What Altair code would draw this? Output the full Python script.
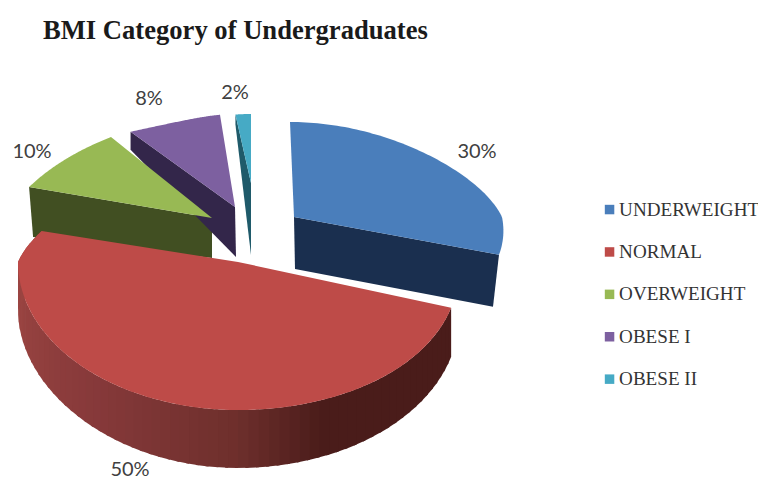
import math
import altair as alt
import pandas as pd

categories = ["UNDERWEIGHT", "NORMAL", "OVERWEIGHT", "OBESE I", "OBESE II"]
values = [30, 50, 10, 8, 2]
colors = ["#4a7ebb", "#be4b48", "#98b954", "#7d60a0", "#46aac5"]
wall_colors = ["#1a2f4f", "#4a1c1a", "#414f22", "#33264a", "#1f5a6a"]
percent_labels = ["30%", "50%", "10%", "8%", "2%"]

# drawing layout of the tilted, exploded pie
# (apex x, apex y, rx, ry back, ry front, depth, back tilt, front shear, back lean)
layout = {
    "UNDERWEIGHT": (294, 217, 208, 95, 122, 52, 0.2, 0.2, -4),
    "NORMAL": (238, 262, 220, 100, 148, 48, 0.2, 0.09, 0),
    "OVERWEIGHT": (212, 218, 205, 100, 100, 40, 0.2, 0.0, 0),
    "OBESE I": (235, 207, 434, 93, 93, 50, 0.73, 0.0, 0),
    "OBESE II": (251, 183, 155, 69, 69, 72, 0.2, 0.0, 0),
}
label_pos = [(477, 152), (130, 470), (32, 152), (149, 99), (235, 93)]
wall_stops = [(0.0, "#4a1c1a"), (0.28, "#4a1c1a"), (0.4, "#6e2f2c"), (0.62, "#86393a"), (0.87, "#9a4441"), (1.0, "#9a4441")]


def rim(cat, theta):
    ax, ay, rx, ryb, ryf, _, tilt, shear, lean = layout[cat]
    s, c = math.sin(theta), math.cos(theta)
    r = rx * (1 - tilt * max(0.0, c))
    ry = ryb if c > 0 else ryf
    x = ax + r * s + lean * max(0.0, c)
    if c < 0 and s > 0:
        x += shear * ry * abs(c) * s
    return [x, ay - ry * c]


def feature(name, ring, shade=None):
    closed = ring + [ring[0]]
    return {
        "type": "Feature",
        "properties": {"name": name, "shade": shade},
        "geometry": {"type": "Polygon", "coordinates": [closed]},
    }


def mix(a, b, t):
    pa = [int(a[i:i + 2], 16) for i in (1, 3, 5)]
    pb = [int(b[i:i + 2], 16) for i in (1, 3, 5)]
    return "#" + "".join(f"{round(x + (y - x) * t):02x}" for x, y in zip(pa, pb))


def wall_shade(f):
    for (f0, c0), (f1, c1) in zip(wall_stops, wall_stops[1:]):
        if f <= f1:
            return mix(c0, c1, (f - f0) / (f1 - f0))
    return wall_stops[-1][1]


spans = {}
acc = 0
for cat, v in zip(categories, values):
    spans[cat] = (acc / 100 * 2 * math.pi, (acc + v) / 100 * 2 * math.pi)
    acc += v

tops, walls, red_wall = {}, [], []
for cat in categories:
    a0, a1 = spans[cat]
    n = 80
    arc = [rim(cat, a0 + (a1 - a0) * i / n) for i in range(n + 1)]
    tops[cat] = feature(cat, [[layout[cat][0], layout[cat][1]]] + arc)

# flat cut faces of the back slices
for cat, col in zip(categories, wall_colors):
    ax, ay, d = layout[cat][0], layout[cat][1], layout[cat][5]
    if cat == "UNDERWEIGHT":
        p = rim(cat, spans[cat][1])
        walls.append(feature(cat, [[ax, ay], p, [p[0] - 6, p[1] + d], [ax + 1, ay + d]], col))
    elif cat == "OVERWEIGHT":
        p = rim(cat, spans[cat][0])
        walls.append(feature(cat, [p, [ax, ay], [ax, ay + d], [p[0] + 4, p[1] + 50]], col))
    elif cat == "OBESE I":
        p = rim(cat, spans[cat][0])
        walls.append(feature(cat, [p, [ax, ay], [ax + 1, ay + d], [p[0], p[1] + 18]], col))
    elif cat == "OBESE II":
        p = rim(cat, spans[cat][0])
        walls.append(feature(cat, [p, [ax, ay], [ax, ay + d], [p[0], p[1] + 10]], col))

# curved outer wall of the NORMAL slice, shaded strip by strip
a0, a1 = spans["NORMAL"]
base_depth = layout["NORMAL"][5]


def depth_at(theta):
    return base_depth + 10 * max(0.0, -math.cos(theta)) ** 2


m = 70
for i in range(m):
    t0 = a0 + (a1 - a0) * i / m
    t1 = min(a0 + (a1 - a0) * (i + 1.3) / m, a1)
    p0, p1 = rim("NORMAL", t0), rim("NORMAL", t1)
    shade = wall_shade(i / (m - 1))
    red_wall.append(feature(
        "NORMAL",
        [p0, p1, [p1[0], p1[1] + depth_at(t1)], [p0[0], p0[1] + depth_at(t0)]],
        shade,
    ))

proj = dict(type="identity", scale=1, translate=[-8, -8])
color_scale = alt.Scale(domain=categories, range=colors)

back_walls = alt.Chart(alt.Data(values=walls)).mark_geoshape(stroke=None).encode(
    fill=alt.Fill("properties.shade:N", scale=None),
).project(**proj)

back_order = ["OBESE I", "OBESE II", "OVERWEIGHT", "UNDERWEIGHT"]
back_tops = alt.Chart(alt.Data(values=[tops[c] for c in back_order])).mark_geoshape(stroke=None).encode(
    fill=alt.Fill(
        "properties.name:N",
        scale=color_scale,
        legend=alt.Legend(
            title=None,
            orient="none",
            legendX=592,
            legendY=192,
            padding=0,
            symbolType="square",
            symbolSize=90,
            symbolStrokeWidth=0,
            labelFont="Liberation Serif",
            labelFontSize=19.1,
            labelColor="#333333",
            labelLimit=200,
            labelOffset=0,
            rowPadding=22.4,
            values=categories,
        ),
    ),
).project(**proj)

wall_front = alt.Chart(alt.Data(values=red_wall)).mark_geoshape(stroke=None).encode(
    fill=alt.Fill("properties.shade:N", scale=None),
).project(**proj)

front_top = alt.Chart(alt.Data(values=[tops["NORMAL"]])).mark_geoshape(stroke=None).encode(
    fill=alt.Fill("properties.name:N", scale=color_scale, legend=None),
).project(**proj)

labels_df = pd.DataFrame({
    "label": percent_labels,
    "px": [p[0] - 8 for p in label_pos],
    "py": [p[1] - 8 for p in label_pos],
})
labels = alt.Chart(labels_df).mark_text(
    font="Lato", fontSize=20, color="#404040", align="center", baseline="middle"
).encode(
    x=alt.X("px:Q", scale=None),
    y=alt.Y("py:Q", scale=None),
    text="label:N",
)

title_df = pd.DataFrame({"t": ["BMI Category of Undergraduates"], "px": [35], "py": [23]})
title = alt.Chart(title_df).mark_text(
    font="Liberation Serif", fontSize=26.6, fontWeight="bold", color="#1a1a1a", align="left", baseline="middle"
).encode(
    x=alt.X("px:Q", scale=None),
    y=alt.Y("py:Q", scale=None),
    text="t:N",
)

chart = (
    alt.layer(back_walls, back_tops, wall_front, front_top, labels, title)
    .resolve_scale(fill="independent")
    .properties(width=750, height=473, padding=0, autosize=alt.AutoSizeParams(type="none"), background="white")
    .configure_view(stroke=None)
)

chart.save("out.html", embed_options={"renderer": "svg", "actions": False})
